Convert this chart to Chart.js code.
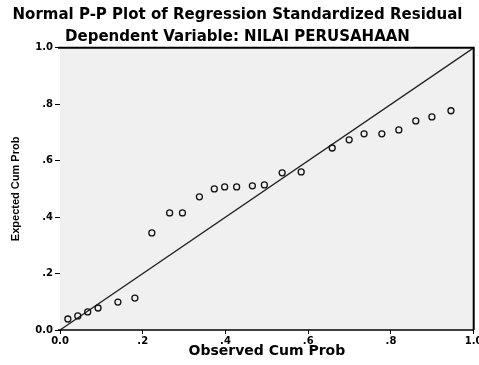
<!DOCTYPE html>
<html>
<head>
<meta charset="utf-8">
<script src="https://cdn.jsdelivr.net/npm/chart.js@4/dist/chart.umd.min.js"></script>
<style>
  html, body { margin: 0; padding: 0; background: #ffffff; }
  #wrap { width: 479px; height: 365px; }
</style>
</head>
<body>
<div id="wrap"><canvas id="c" width="479" height="365"></canvas></div>
<script>
// Observed cumulative probability (x) and expected cumulative probability (y)
const observedCumProb = [0.019, 0.043, 0.067, 0.092, 0.140, 0.181,
  0.222, 0.265, 0.296, 0.337, 0.373, 0.398, 0.427, 0.465, 0.494,
  0.537, 0.583, 0.658, 0.699, 0.735, 0.778, 0.819, 0.860, 0.899, 0.945];
const expectedCumProb = [0.039, 0.050, 0.064, 0.078, 0.099, 0.113,
  0.344, 0.415, 0.415, 0.472, 0.500, 0.507, 0.507, 0.511, 0.514,
  0.557, 0.560, 0.645, 0.674, 0.695, 0.695, 0.709, 0.741, 0.755, 0.777];
const referenceLine = [0, 1];
const tickValues = [0, 0.2, 0.4, 0.6, 0.8, 1.0];
const tickLabels = ['0.0', '.2', '.4', '.6', '.8', '1.0'];
const chartTitle = 'Normal P-P Plot of Regression Standardized Residual';
const chartSubtitle = 'Dependent Variable: NILAI PERUSAHAAN';
const xTitle = 'Observed Cum Prob';
const yTitle = 'Expected Cum Prob';

const points = observedCumProb.map((x, i) => ({ x: x, y: expectedCumProb[i] }));
const linePts = referenceLine.map(v => ({ x: v, y: v }));
const FONT = '"DejaVu Sans", Verdana, sans-serif';
const FONT2 = '"Liberation Sans", Arial, sans-serif';

function labelFor(v) {
  const i = tickValues.findIndex(t => Math.abs(t - v) < 1e-6);
  return i >= 0 ? tickLabels[i] : '';
}

const plotFrame = {
  id: 'plotFrame',
  beforeDatasetsDraw(chart) {
    const { ctx, chartArea: a } = chart;
    ctx.save();
    ctx.fillStyle = '#f0f0f0';
    ctx.fillRect(a.left, a.top, a.right - a.left, a.bottom - a.top);
    ctx.restore();
  },
  afterDraw(chart) {
    const { ctx, chartArea: a } = chart;
    ctx.save();
    ctx.strokeStyle = '#000';
    ctx.lineWidth = 2;
    ctx.beginPath();
    ctx.moveTo(a.left - 2, a.top);
    ctx.lineTo(a.right, a.top);
    ctx.lineTo(a.right, a.bottom);
    ctx.stroke();
    ctx.lineWidth = 1.5;
    ctx.beginPath();
    ctx.moveTo(a.left - 2, a.bottom);
    ctx.lineTo(a.right, a.bottom);
    ctx.stroke();
    ctx.restore();
  }
};

new Chart(document.getElementById('c'), {
  type: 'scatter',
  data: {
    datasets: [
      {
        type: 'line',
        data: linePts,
        borderColor: '#222',
        borderWidth: 1.3,
        pointRadius: 0,
        fill: false,
        order: 2
      },
      {
        data: points,
        pointStyle: 'circle',
        pointRadius: 3,
        borderColor: '#111',
        borderWidth: 1.3,
        backgroundColor: 'rgba(0,0,0,0)',
        order: 1
      }
    ]
  },
  options: {
    responsive: false,
    animation: false,
    layout: { padding: { left: 0, right: 4, top: 0, bottom: 0 } },
    plugins: {
      legend: { display: false },
      tooltip: { enabled: false },
      title: {
        display: true,
        text: chartTitle,
        color: '#000',
        font: { family: FONT, size: 15, weight: 'bold', lineHeight: 1.2 },
        padding: { top: 6, bottom: 5 }
      },
      subtitle: {
        display: true,
        text: chartSubtitle,
        color: '#000',
        font: { family: FONT, size: 15, weight: 'bold', lineHeight: 1.12 },
        padding: { top: 0, bottom: 2 }
      }
    },
    scales: {
      x: {
        type: 'linear',
        min: 0, max: 1,
        afterBuildTicks(scale) { scale.ticks = tickValues.map(v => ({ value: v })); },
        afterFit(scale) { scale.height = 35; scale.paddingLeft = 0; scale.paddingRight = 0; },
        grid: { display: true, drawOnChartArea: false, drawTicks: true, tickLength: 4, color: '#000', lineWidth: 1 },
        border: { display: false },
        ticks: {
          color: '#000',
          padding: 1,
          maxRotation: 0,
          autoSkip: false,
          font: { family: FONT, size: 10, weight: 'bold' },
          callback: v => labelFor(v)
        },
        title: {
          display: true,
          text: xTitle,
          color: '#000',
          font: { family: FONT, size: 14, weight: 'bold', lineHeight: 1.2 },
          padding: { top: 0, bottom: 5 }
        }
      },
      y: {
        type: 'linear',
        min: 0, max: 1,
        afterBuildTicks(scale) { scale.ticks = tickValues.map(v => ({ value: v })); },
        afterFit(scale) { scale.width = 60; scale.paddingTop = 0; scale.paddingBottom = 0; },
        grid: { display: true, drawOnChartArea: false, drawTicks: true, tickLength: 5, color: '#000', lineWidth: 1 },
        border: { display: false },
        ticks: {
          color: '#000',
          padding: 2,
          autoSkip: false,
          font: { family: FONT, size: 10, weight: 'bold' },
          callback: v => labelFor(v)
        },
        title: {
          display: true,
          text: yTitle,
          color: '#000',
          font: { family: FONT2, size: 11, weight: 'bold', lineHeight: 1.2 },
          padding: { top: 9, bottom: 0 }
        }
      }
    }
  },
  plugins: [plotFrame]
});
</script>
</body>
</html>
